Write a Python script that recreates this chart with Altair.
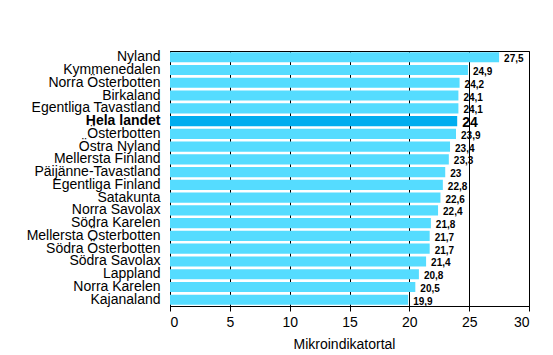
import altair as alt
import pandas as pd

regions = [
    "Nyland", "Kymmenedalen", "Norra Österbotten", "Birkaland", "Egentliga Tavastland",
    "Hela landet", "Österbotten", "Östra Nyland", "Mellersta Finland", "Päijänne-Tavastland",
    "Egentliga Finland", "Satakunta", "Norra Savolax", "Södra Karelen", "Mellersta Österbotten",
    "Södra Österbotten", "Södra Savolax", "Lappland", "Norra Karelen", "Kajanaland",
]
values = [27.5, 24.9, 24.2, 24.1, 24.1, 24, 23.9, 23.4, 23.3, 23,
          22.8, 22.6, 22.4, 21.8, 21.7, 21.7, 21.4, 20.8, 20.5, 19.9]
labels = ["27,5", "24,9", "24,2", "24,1", "24,1", "24", "23,9", "23,4", "23,3", "23",
          "22,8", "22,6", "22,4", "21,8", "21,7", "21,7", "21,4", "20,8", "20,5", "19,9"]
x_ticks = [0, 5, 10, 15, 20, 25, 30]

df = pd.DataFrame({"region": regions, "value": values, "label": labels})

FONT = "Liberation Sans"
is_total = alt.datum.region == "Hela landet"

y_enc = alt.Y(
    "region:N", sort=regions, title=None,
    scale=alt.Scale(paddingInner=0.21, paddingOuter=0.1),
    axis=alt.Axis(
        labelFont=FONT, labelFontSize=14, labelColor="black", labelPadding=10,
        labelFontWeight=alt.condition(alt.datum.value == "Hela landet", alt.value("bold"), alt.value("normal")),
        ticks=False, domain=True, domainColor="black", minExtent=162, maxExtent=162,
        labelLimit=300,
    ),
)
x_enc = alt.X(
    "value:Q", title="Mikroindikatortal",
    scale=alt.Scale(domain=[0, 30], nice=False),
    axis=alt.Axis(
        values=x_ticks, grid=True, gridColor="black", gridOpacity=1, gridWidth=1,
        labelFont=FONT, labelFontSize=14, labelColor="black", labelPadding=4,
        tickColor="black", tickSize=5, domainColor="black",
        titleFont=FONT, titleFontSize=14, titleFontWeight="normal", titleColor="black",
        titlePadding=8, titleX=174, titleAlign="center",
    ),
)

bars = alt.Chart(df).mark_bar().encode(
    y=y_enc, x=x_enc,
    color=alt.condition(is_total, alt.value("#00ADEF"), alt.value("#55DCFF")),
)

text = alt.Chart(df).mark_text(
    align="left", baseline="middle", dx=5, dy=2, font=FONT, fontWeight="bold", color="black",
).encode(
    y=alt.Y("region:N", sort=regions),
    x="value:Q",
    text="label:N",
    size=alt.condition(is_total, alt.value(14), alt.value(10)),
)

chart = alt.layer(bars, text).properties(
    width=359, height=255,
    padding={"left": 0, "top": 41, "right": 5, "bottom": 5},
    background="white",
).configure_view(stroke="black", strokeWidth=1)

chart.save("out.html", embed_options={"renderer": "svg", "actions": False})
